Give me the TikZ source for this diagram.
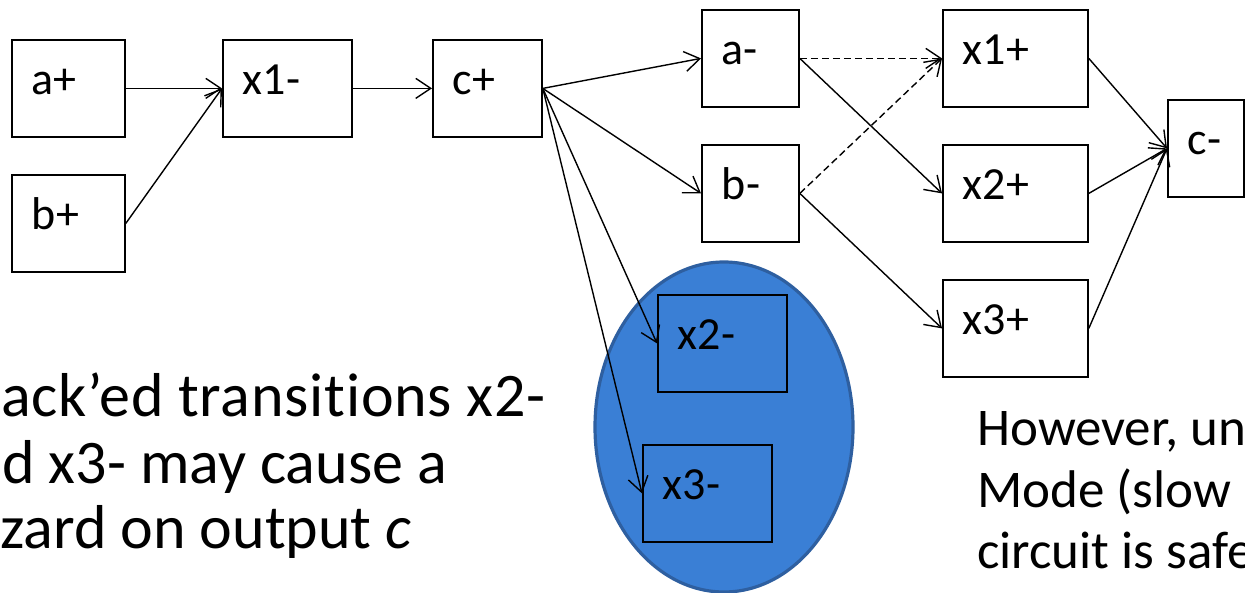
\documentclass[tikz,border=0pt]{standalone}
\usepackage{fontspec}
\setmainfont{Carlito}[Ligatures=NoCommon]
\usetikzlibrary{arrows.meta}
\definecolor{blobfill}{RGB}{58,127,213}
\definecolor{blobline}{RGB}{46,95,160}
\begin{document}
\begin{tikzpicture}[x=1pt,y=-1pt,
  box/.style={draw, line width=1.8pt, minimum height=97pt, inner xsep=20pt,
    inner ysep=0pt, text height=30pt, text depth=17pt, align=left,
    anchor=north west, font=\fontsize{46}{50}\selectfont},
  conn/.style={line width=1.4pt, -{Straight Barb[length=15pt,width=20pt]}},
  hazard/.style={conn, dash pattern=on 7pt off 4pt},
  lefttext/.style={anchor=base west, inner sep=0pt, font=\fontsize{62}{66}\selectfont},
  righttext/.style={anchor=base west, inner sep=0pt, font=\fontsize{53}{57}\selectfont}]
\useasboundingbox (0,0) rectangle (1245,593);
\clip (0,0) rectangle (1245,593);

% highlighted region around the unacknowledged transitions
\draw[blobline, fill=blobfill, line width=3.2pt] (724,427) ellipse [x radius=129, y radius=165];

% transitions
\node[box, text width=73pt] (ap)  at (11,39)   {a+};
\node[box, text width=73pt] (bp)  at (11,174)  {b+};
\node[box, text width=89pt] (x1m) at (222,39)  {x1-};
\node[box, text width=69pt] (cp)  at (432,39)  {c+};
\node[box, text width=57pt] (am)  at (701,9)   {a-};
\node[box, text width=57pt] (bm)  at (701,144) {b-};
\node[box, text width=105pt] (x1p) at (942,9)   {x1+};
\node[box, text width=105pt] (x2p) at (942,144) {x2+};
\node[box, text width=105pt] (x3p) at (942,279) {x3+};
\node[box, text width=36pt] (cm)  at (1167,99) {c-};
\node[box, text width=89pt] (x2m) at (657,294) {x2-};
\node[box, text width=89pt] (x3m) at (642,444) {x3-};

% causal arcs
\draw[conn] (ap.east) -- (x1m.west);
\draw[conn] (bp.east) -- (x1m.west);
\draw[conn] (x1m.east) -- (cp.west);
\draw[conn] (cp.east) -- (am.west);
\draw[conn] (cp.east) -- (bm.west);
\draw[conn] (cp.east) -- (x2m.west);
\draw[conn] (cp.east) -- (x3m.west);
\draw[hazard] (am.east) -- (x1p.west);
\draw[hazard] (bm.east) -- (x1p.west);
\draw[conn] (am.east) -- (x2p.west);
\draw[conn] (bm.east) -- (x3p.west);
\draw[conn] (x1p.east) -- (cm.west);
\draw[conn] (x2p.east) -- (cm.west);
\draw[conn] (x3p.east) -- (cm.west);

% explanatory text
\node[lefttext] (l1) at (1,417) {\addfontfeatures{LetterSpace=1.2}ack’ed transitions x2-};
\node[lefttext] (l2) at (2,483) {d x3- may cause a};
\node[lefttext] (l3) at (0,548) {zard on output \textit{c}};
\node[righttext] (r1) at (977,446) {However, un};
\node[righttext] (r2) at (977,507) {Mode (slow};
\node[righttext] (r3) at (977,568) {circuit is safe};
\end{tikzpicture}
\end{document}
